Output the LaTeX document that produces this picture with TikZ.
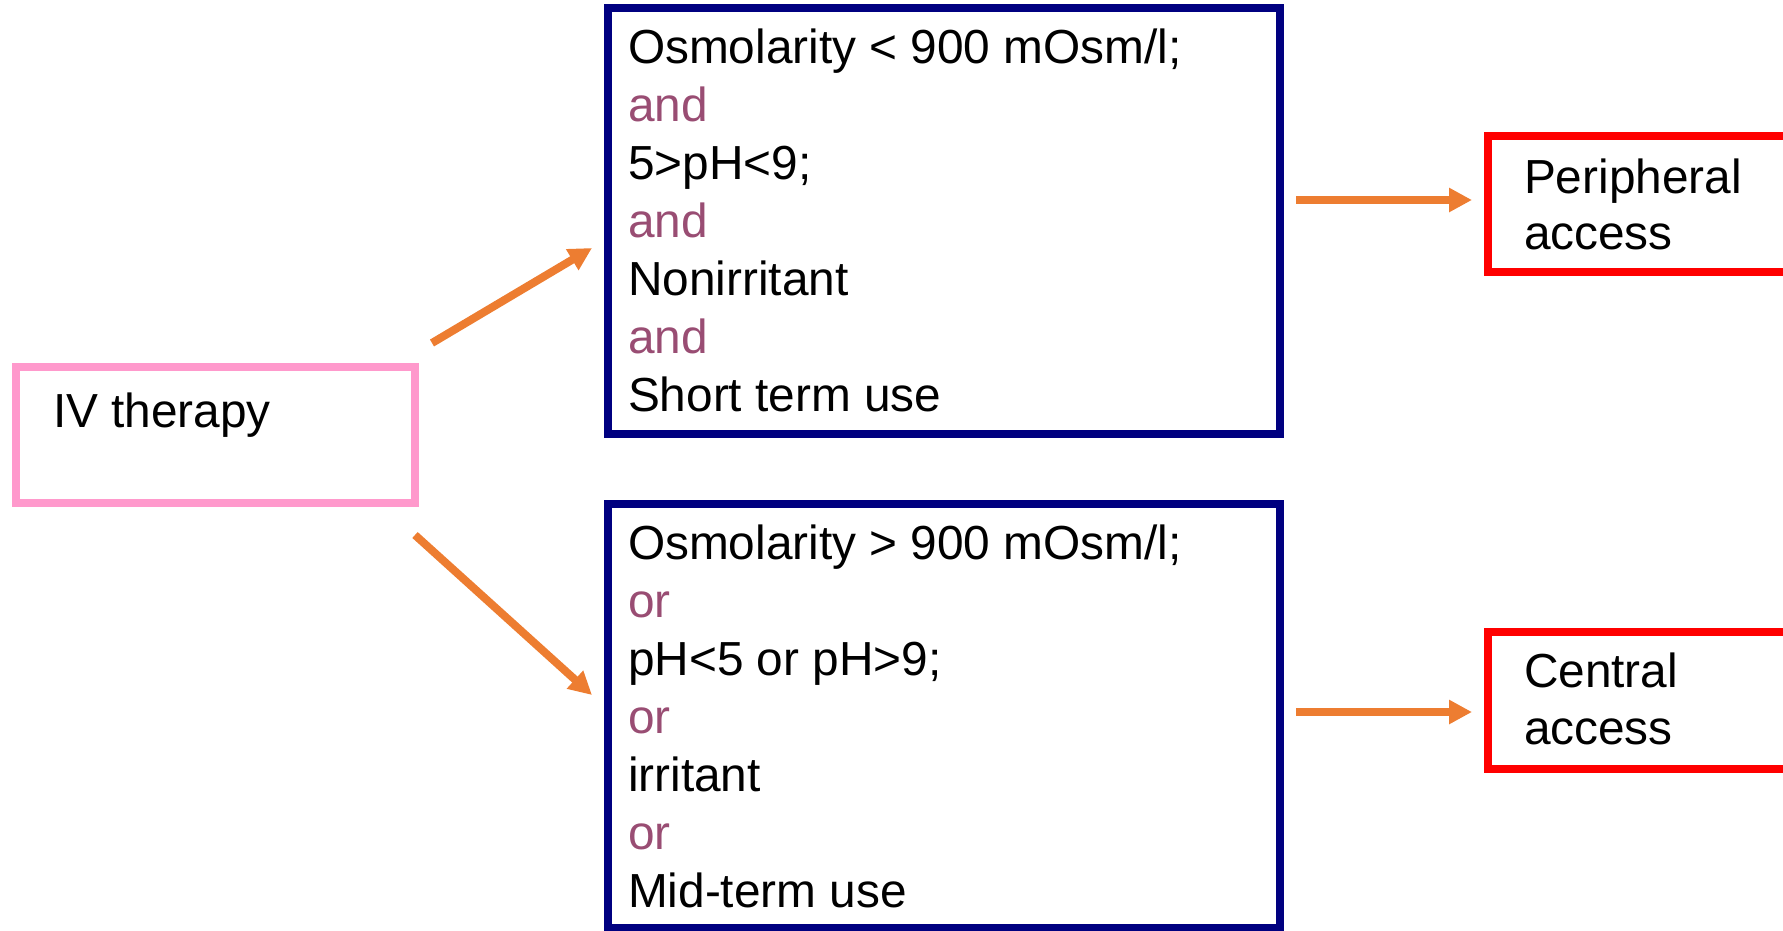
\documentclass[tikz,border=0pt]{standalone}
\usepackage{fontspec}
\setmainfont{Liberation Sans}
\usetikzlibrary{arrows.meta}
\definecolor{navyb}{RGB}{0,0,128}
\definecolor{pinkb}{RGB}{255,153,204}
\definecolor{redb}{RGB}{255,0,0}
\definecolor{orangea}{RGB}{237,125,49}
\definecolor{mauve}{RGB}{153,77,115}
\begin{document}
\begin{tikzpicture}[x=1pt,y=-1pt,
  txt/.style={inner sep=0pt, outer sep=0pt, anchor=base west, font=\fontsize{47.8}{57}\selectfont},
  conj/.style={txt, text=mauve},
  arr/.style={draw=orangea, line width=8pt, -{Triangle[length=23pt,width=23pt]}},
  boxline/.style={draw, line width=8pt, inner sep=0pt, outer sep=0pt, anchor=north west}]
\clip (0,0) rectangle (1783,930);
% boxes
\node[boxline, draw=pinkb, minimum width=399pt, minimum height=136pt] (iv) at (16,367) {};
\node[boxline, draw=navyb, minimum width=672pt, minimum height=426pt] (topbox) at (608,8) {};
\node[boxline, draw=navyb, minimum width=672pt, minimum height=424pt] (botbox) at (608,504) {};
\node[boxline, draw=redb, minimum width=330pt, minimum height=136pt] (peri) at (1488,136) {};
\node[boxline, draw=redb, minimum width=330pt, minimum height=137pt] (cent) at (1488,632) {};
% texts
\node[txt] (ivt) at (53,427) {IV therapy};
\node[txt] (t1) at (628,63) {Osmolarity < 900 mOsm/l;};
\node[conj] (t2) at (628,121) {and};
\node[txt] (t3) at (628,179) {5>pH<9;};
\node[conj] (t4) at (628,237) {and};
\node[txt] (t5) at (628,295) {Nonirritant};
\node[conj] (t6) at (628,353) {and};
\node[txt] (t7) at (628,411) {Short term use};
\node[txt] (b1) at (628,559) {Osmolarity > 900 mOsm/l;};
\node[conj] (b2) at (628,617) {or};
\node[txt] (b3) at (628,675) {pH<5 or pH>9;};
\node[conj] (b4) at (628,733) {or};
\node[txt] (b5) at (628,791) {irritant};
\node[conj] (b6) at (628,849) {or};
\node[txt] (b7) at (628,907) {Mid-term use};
\node[txt] (p1) at (1524,193) {Peripheral};
\node[txt] (p2) at (1524,249) {access};
\node[txt] (c1) at (1524,687) {Central};
\node[txt] (c2) at (1524,744) {access};
% connectors
\coordinate (u0) at (432,343);
\coordinate (u1) at (592,248);
\coordinate (d0) at (415,535);
\coordinate (d1) at (592,695);
\coordinate (r0) at (1296,200);
\coordinate (r1) at (1472,200);
\coordinate (s0) at (1296,712);
\coordinate (s1) at (1472,712);
\draw[arr] (u0) -- (u1);
\draw[arr] (d0) -- (d1);
\draw[arr] (r0) -- (r1);
\draw[arr] (s0) -- (s1);
\end{tikzpicture}
\end{document}
